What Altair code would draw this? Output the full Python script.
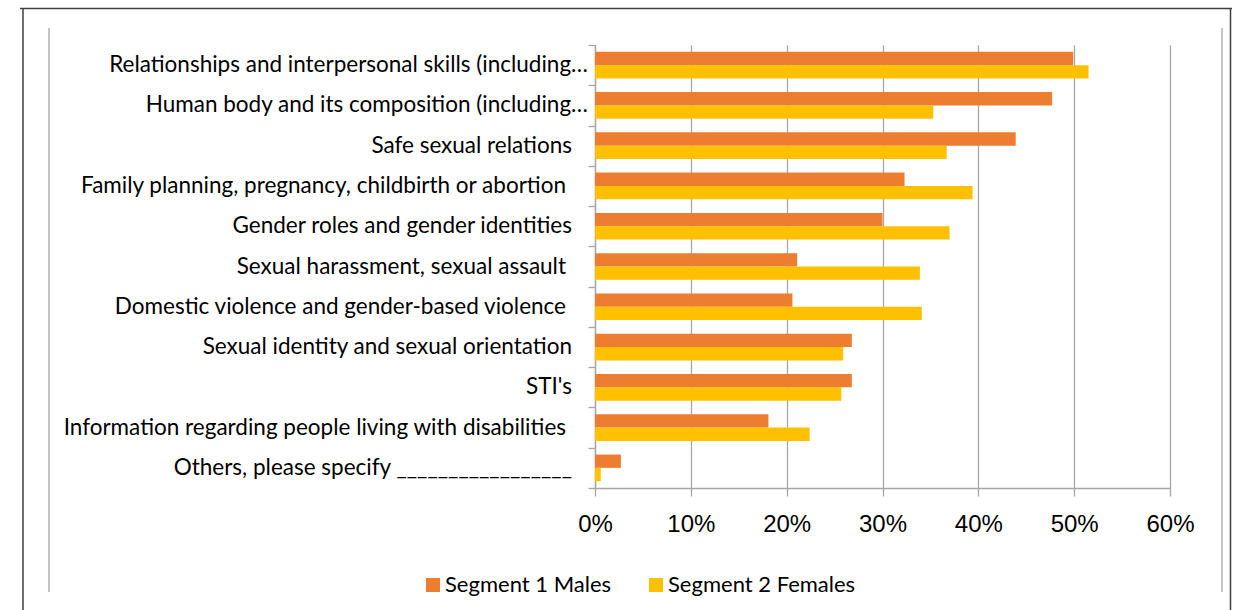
import altair as alt
import pandas as pd

# Topics, top to bottom
topics = [
    "Relationships and interpersonal skills (including…",
    "Human body and its composition (including…",
    "Safe sexual relations",
    "Family planning, pregnancy, childbirth or abortion ",
    "Gender roles and gender identities",
    "Sexual harassment, sexual assault ",
    "Domestic violence and gender-based violence ",
    "Sexual identity and sexual orientation",
    "STI's",
    "Information regarding people living with disabilities ",
    "Others, please specify _________________",
]

series = ["Segment 1 Males", "Segment 2 Females"]
colors = ["#ED7D31", "#FFC000"]

males = [0.499, 0.477, 0.439, 0.323, 0.300, 0.211, 0.206, 0.268, 0.268, 0.181, 0.027]
females = [0.515, 0.353, 0.367, 0.394, 0.370, 0.339, 0.341, 0.259, 0.257, 0.224, 0.006]

x_ticks = [0, 0.1, 0.2, 0.3, 0.4, 0.5, 0.6]

rows = []
for t, m, f in zip(topics, males, females):
    rows.append({"topic": t, "segment": series[0], "share": m})
    rows.append({"topic": t, "segment": series[1], "share": f})
df = pd.DataFrame(rows)


def label_kind(t):
    if "…" in t:
        return "cut"
    if t.endswith(" "):
        return "space"
    return "plain"


label_df = pd.DataFrame({"topic": topics, "kind": [label_kind(t) for t in topics]})

PLOT_W = 575
PLOT_H = 443
LEFT = 595
TOP = 45
GRID = "#a6a6a6"
LABEL_FONT = "Lato"
LABEL_SIZE = 22.5

y_enc = alt.Y(
    "topic:N",
    sort=topics,
    scale=alt.Scale(paddingInner=0, paddingOuter=0),
    axis=alt.Axis(
        title=None,
        labels=False,
        tickBand="extent",
        tickSize=7,
        tickColor=GRID,
        tickWidth=1.3,
        domainColor=GRID,
        domainWidth=1.3,
    ),
)

bars = (
    alt.Chart(df)
    .mark_bar()
    .encode(
        x=alt.X(
            "share:Q",
            scale=alt.Scale(domain=[0, 0.6], nice=False),
            axis=alt.Axis(
                values=x_ticks,
                format=".0%",
                title=None,
                grid=True,
                gridColor=GRID,
                gridWidth=1.3,
                domainColor=GRID,
                domainWidth=1.3,
                tickColor=GRID,
                tickWidth=1.3,
                tickSize=8,
                labelFlush=False,
                labelFont="Liberation Sans",
                labelFontSize=24,
                labelColor="#000000",
                labelPadding=16,
            ),
        ),
        y=y_enc,
        yOffset=alt.YOffset(
            "segment:N", sort=series, scale=alt.Scale(paddingOuter=0.51, paddingInner=0)
        ),
        color=alt.Color(
            "segment:N",
            sort=series,
            scale=alt.Scale(domain=series, range=colors),
            legend=alt.Legend(
                title=None,
                orient="none",
                direction="horizontal",
                legendX=-173,
                legendY=529,
                symbolType="square",
                symbolSize=196,
                labelFont=LABEL_FONT,
                labelFontSize=22,
                labelColor="#000000",
                labelLimit=400,
                labelOffset=1,
                columnPadding=33,
            ),
        ),
    )
)


# Category labels: ellipsis-cut ones sit against the ticks, the rest keep
# the gap of a regular label, plus one space where the text ends with a space.
def label_layer(kind, x_end):
    return (
        alt.Chart(label_df)
        .transform_filter(alt.datum.kind == kind)
        .mark_text(align="right", baseline="middle", font=LABEL_FONT,
                   fontSize=LABEL_SIZE, color="#000000")
        .encode(y=alt.Y("topic:N", sort=topics), x=alt.value(x_end), text="topic:N")
    )


labels = [label_layer("cut", -7), label_layer("plain", -23), label_layer("space", -29)]

frame = pd.DataFrame({"k": [0]})


def rule(x, x2, y, y2, color, width):
    return (
        alt.Chart(frame)
        .mark_rule(color=color, strokeWidth=width)
        .encode(
            x=alt.value(x - LEFT),
            x2=alt.value(x2 - LEFT),
            y=alt.value(y - TOP),
            y2=alt.value(y2 - TOP),
        )
    )


decor = [
    rule(20, 1232, 8.5, 8.5, "#404040", 1.5),
    rule(23, 23, 8.5, 615, "#404040", 1.5),
    rule(1230.5, 1230.5, 8.5, 615, "#404040", 1.5),
    rule(49, 49, 28, 592, "#c4c4c4", 2),
    rule(1222, 1222, 28, 592, "#c4c4c4", 2),
]

chart = (
    alt.layer(bars, *labels, *decor)
    .properties(
        width=PLOT_W,
        height=PLOT_H,
        autosize=alt.AutoSizeParams(type="none"),
        padding={"left": LEFT, "top": TOP, "right": 1235 - LEFT - PLOT_W, "bottom": 610 - TOP - PLOT_H},
        background="#ffffff",
    )
    .configure_view(stroke=None)
)

chart.save("out.html", embed_options={"renderer": "svg", "actions": False})
